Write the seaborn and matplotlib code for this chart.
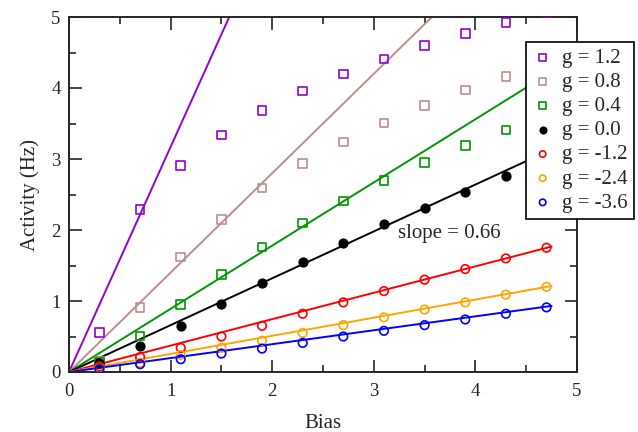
import numpy as np
import pandas as pd
import matplotlib
matplotlib.use("Agg")
import matplotlib.pyplot as plt
from matplotlib.ticker import MultipleLocator
import seaborn as sns

# ---- data ----
bias = [0.3, 0.7, 1.1, 1.5, 1.9, 2.3, 2.7, 3.1, 3.5, 3.9, 4.3, 4.7]

act_g12 = [0.56, 2.29, 2.91, 3.34, 3.68, 3.96, 4.20, 4.41, 4.60, 4.77, 4.92, 5.06]
act_g08 = [0.15, 0.91, 1.62, 2.15, 2.59, 2.94, 3.24, 3.51, 3.75, 3.97, 4.16, 4.33]
act_g04 = [0.13, 0.51, 0.95, 1.37, 1.76, 2.10, 2.41, 2.70, 2.95, 3.19, 3.41, 3.62]
act_g00 = [0.12, 0.36, 0.65, 0.96, 1.26, 1.55, 1.82, 2.08, 2.31, 2.54, 2.76, 2.97]
act_gm12 = [0.08, 0.21, 0.34, 0.50, 0.65, 0.82, 0.98, 1.14, 1.30, 1.45, 1.60, 1.75]
act_gm24 = [0.05, 0.13, 0.24, 0.34, 0.44, 0.55, 0.66, 0.77, 0.88, 0.98, 1.09, 1.20]
act_gm36 = [0.04, 0.11, 0.18, 0.26, 0.33, 0.41, 0.50, 0.58, 0.66, 0.74, 0.82, 0.91]

labels = ["g = 1.2", "g = 0.8", "g = 0.4", "g = 0.0", "g = -1.2", "g = -2.4", "g = -3.6"]
series = [act_g12, act_g08, act_g04, act_g00, act_gm12, act_gm24, act_gm36]
slopes = [3.17, 1.40, 0.89, 0.66, 0.372, 0.255, 0.196]
line_end = [5, 5, 5, 5, 4.75, 4.75, 4.75]

colors = ["#9400D3", "#BC8F8F", "#009600", "black", "#FF0000", "#FFA500", "#0000FF"]
markers = ["s", "s", "s", "o", "o", "o", "o"]
filled = [False, False, False, True, False, False, False]

# ---- style ----
sns.set_style("ticks")
plt.rcParams["font.family"] = ["Liberation Serif", "DejaVu Serif"]

fig = plt.figure(figsize=(6.38, 4.32), dpi=100)
ax = fig.add_axes([69 / 638, 1 - 372 / 432, 508 / 638, 355 / 432])

for lab, y, k, xe, col, mk, fl in zip(labels, series, slopes, line_end, colors, markers, filled):
    xl = np.array([0, xe])
    ax.plot(xl, k * xl, color=col, lw=1.4, zorder=2)
    df = pd.DataFrame({"Bias": bias, "Activity": y})
    sns.scatterplot(data=df, x="Bias", y="Activity", ax=ax, marker=mk, s=38,
                    facecolor=col if fl else "none", edgecolor=col,
                    linewidth=1.2, label=lab, zorder=3)

ax.text(3.235, 1.89, "slope = 0.66", fontsize=15, ha="left", va="baseline")

ax.set_xlim(0, 5)
ax.set_ylim(0, 5)
ax.xaxis.set_major_locator(MultipleLocator(1))
ax.yaxis.set_major_locator(MultipleLocator(1))
ax.xaxis.set_minor_locator(MultipleLocator(0.5))
ax.yaxis.set_minor_locator(MultipleLocator(0.5))
ax.tick_params(which="both", direction="in", top=True, right=True, width=1.2, labelsize=13.5)
ax.tick_params(axis="x", pad=8)
ax.tick_params(axis="y", pad=6)
ax.tick_params(which="major", length=9)
ax.tick_params(which="minor", length=5)
for sp in ax.spines.values():
    sp.set_linewidth(1.4)
    sp.set_visible(True)

ax.set_xlabel("Bias", fontsize=15, labelpad=10)
ax.set_ylabel("Activity (Hz)", fontsize=15, labelpad=8)

leg = ax.legend(loc="upper left", bbox_to_anchor=(526 / 638, 1 - 42 / 432),
                bbox_transform=fig.transFigure, borderaxespad=0, fontsize=15,
                frameon=True, fancybox=False, edgecolor="black", framealpha=1,
                handlelength=1.0, handletextpad=0.45, labelspacing=0.22,
                borderpad=0.3, markerscale=0.75)
leg.get_frame().set_linewidth(1.2)
leg.set_zorder(10)

fig.savefig("out.png", dpi=100)
